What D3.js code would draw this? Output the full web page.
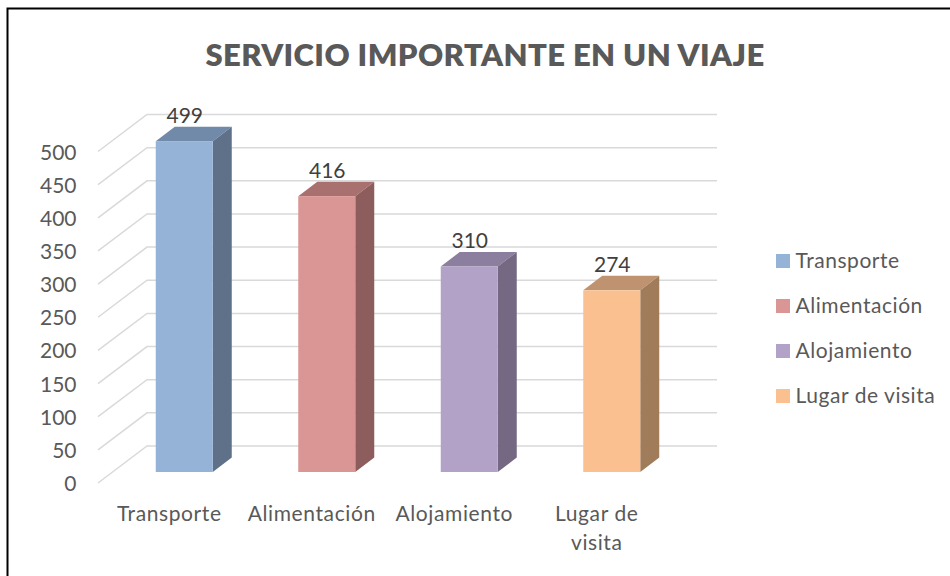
<!DOCTYPE html>
<html>
<head>
<meta charset="utf-8">
<script src="https://cdn.jsdelivr.net/npm/d3@7"></script>
<style>
  body { margin: 0; background: #fff; }
  svg { display: block; }
  text { font-family: Lato, "Open Sans", sans-serif; fill: #595959; }
</style>
</head>
<body>
<svg></svg>
<script>
let width = 950,
    height = 576

const categories = ['Transporte', 'Alimentación', 'Alojamiento', 'Lugar de visita']
const values = [499, 416, 310, 274]
const yTicks = [0, 50, 100, 150, 200, 250, 300, 350, 400, 450, 500]
const faceColors = ['#95b3d7', '#d99694', '#b3a2c7', '#fac090']
const topColors = ['#718aa9', '#a8716f', '#8c7e9e', '#bf9370']
const sideColors = ['#5f7089', '#8c5d5c', '#746882', '#a07c5b']

let svg = d3.select('svg').attr('width', width).attr('height', height)

// frame, only left and top are inside the picture
svg.append('path')
  .attr('d', `M7.5,${height}V8.5H${width}`)
  .attr('fill', 'none').attr('stroke', '#000').attr('stroke-width', 2)

svg.append('text')
  .text('SERVICIO IMPORTANTE EN UN VIAJE')
  .attr('x', 485).attr('y', 66)
  .attr('text-anchor', 'middle')
  .attr('font-size', 31).attr('font-weight', 800)
  .attr('letter-spacing', 0.4)

// front plane of the floor, the wall sits behind it by depth
let wall = { dx: 49, dy: -37, right: 717 }
let bar = { dx: 19, dy: -14.5 }

let x = d3.scaleBand().domain(categories).range([98, 668])
let xBars = d3.scaleBand().domain(categories).range([113, 683]).paddingInner(0.6).paddingOuter(0.3)
let y = d3.scaleLinear().domain([0, 500]).range([483, 151.5])
// bars stand further back than the front edge of the floor
let yBars = d3.scaleLinear().domain([0, 500]).range([472, 140.5])

let grid = svg.append('g').attr('class', 'grid')
  .attr('fill', 'none').attr('stroke', '#d9d9d9').attr('stroke-width', 1.5)
grid.selectAll('path')
  .data(yTicks)
  .enter()
  .append('path')
  .attr('d', d => `M${x.range()[0]},${y(d)}l${wall.dx},${wall.dy}H${wall.right}`)

let ticks = svg.append('g').attr('class', 'ticks')
ticks.selectAll('text')
  .data(yTicks)
  .enter()
  .append('text')
  .text(d => d)
  .attr('x', 76.5).attr('y', d => y(d) + 8)
  .attr('text-anchor', 'end')
  .attr('font-size', 21)

let bars = svg.append('g').attr('class', 'bars')
  .selectAll('g')
  .data(categories)
  .enter()
  .append('g')

bars.append('path')
  .attr('fill', (d, i) => topColors[i])
  .attr('d', (d, i) => {
    let x0 = xBars(d), w = xBars.bandwidth(), y0 = yBars(values[i])
    return `M${x0},${y0}l${bar.dx},${bar.dy}h${w}l${-bar.dx},${-bar.dy}Z`
  })
bars.append('path')
  .attr('fill', (d, i) => sideColors[i])
  .attr('d', (d, i) => {
    let x0 = xBars(d) + xBars.bandwidth()
    return `M${x0},${yBars(values[i])}l${bar.dx},${bar.dy}V${yBars(0) + bar.dy}L${x0},${yBars(0)}Z`
  })
bars.append('rect')
  .attr('fill', (d, i) => faceColors[i])
  .attr('x', d => xBars(d))
  .attr('y', (d, i) => yBars(values[i]))
  .attr('width', xBars.bandwidth())
  .attr('height', (d, i) => yBars(0) - yBars(values[i]))

bars.append('text')
  .text((d, i) => values[i])
  .attr('x', d => xBars(d) + xBars.bandwidth() / 2 + 0.5)
  .attr('y', (d, i) => yBars(values[i]) + bar.dy - 3.5)
  .attr('text-anchor', 'middle')
  .attr('font-size', 21)
  .style('fill', '#404040')

// category labels, the last one wraps
let labels = svg.append('g').attr('class', 'cats')
labels.selectAll('text')
  .data(categories)
  .enter()
  .append('text')
  .attr('text-anchor', 'middle')
  .attr('font-size', 21)
  .attr('letter-spacing', 0.6)
  .attr('y', 521)
  .each(function(d) {
    let lines = d === 'Lugar de visita' ? ['Lugar de', 'visita'] : [d]
    d3.select(this).selectAll('tspan')
      .data(lines)
      .enter()
      .append('tspan')
      .attr('x', x(d) + x.bandwidth() / 2)
      .attr('dy', (l, i) => i ? 29 : 0)
      .text(l => l)
  })

let ly = d3.scalePoint().domain(categories).range([261, 396])
let legend = svg.append('g').attr('class', 'legend')
legend.selectAll('rect')
  .data(categories)
  .enter()
  .append('rect')
  .attr('x', 776).attr('y', d => ly(d) - 7)
  .attr('width', 14).attr('height', 14)
  .attr('fill', (d, i) => faceColors[i])
legend.selectAll('text')
  .data(categories)
  .enter()
  .append('text')
  .text(d => d)
  .attr('x', 795.5).attr('y', d => ly(d) + 7)
  .attr('font-size', 21)
  .attr('letter-spacing', 0.55)
</script>
</body>
</html>
